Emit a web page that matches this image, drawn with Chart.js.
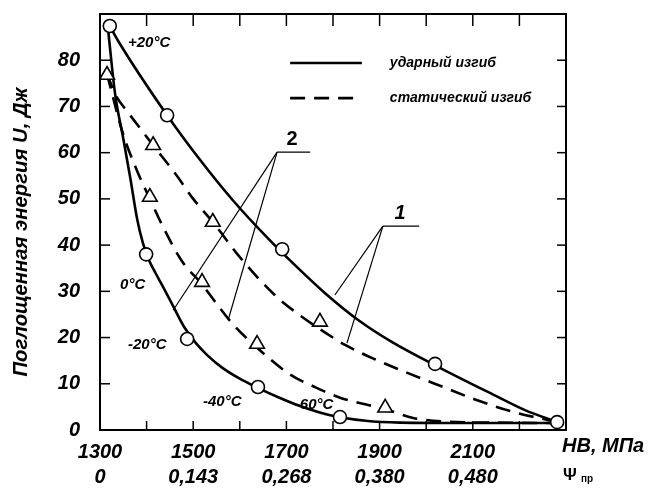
<!DOCTYPE html>
<html>
<head>
<meta charset="utf-8">
<script src="https://cdn.jsdelivr.net/npm/chart.js@4.4.1/dist/chart.umd.min.js"></script>
<style>
  html, body { margin: 0; padding: 0; background: #ffffff; }
  #wrap { width: 650px; height: 488px; }
</style>
</head>
<body>
<div id="wrap"><canvas id="c" width="650" height="488"></canvas></div>
<script>
// ---------- data ----------
// Curve 1, impact bending (solid)
const impact1HB = [1321, 1340, 1444, 1515, 1585, 1660, 1720, 1783, 1854, 1927, 2019, 2141, 2212, 2281];
const impact1U  = [87.4, 84.0, 68.1, 58.4, 49.7, 41.5, 35.5, 29.6, 23.8, 19.0, 14.0, 7.8, 4.3, 1.7];
// Curve 2, impact bending (solid)
const impact2HB = [1318, 1332, 1350, 1365, 1380, 1392, 1405, 1420, 1433, 1457, 1480, 1504, 1530, 1562, 1600, 1633, 1680, 1729, 1794, 1870, 1944, 2100, 2281];
const impact2U  = [86.0, 73.0, 63.0, 54.5, 45.5, 40.5, 36.8, 33.8, 31.4, 26.8, 22.4, 19.0, 16.2, 13.5, 11.1, 9.4, 7.2, 5.2, 3.2, 2.0, 1.6, 1.5, 1.5];
// Curve 1, static bending (dashed)
const static1HB = [1315, 1336, 1358, 1414, 1465, 1500, 1542, 1600, 1675, 1729, 1780, 1826, 1890, 1961, 2034, 2105, 2184, 2281];
const static1U  = [77.0, 72.0, 69.0, 61.6, 55.0, 50.0, 45.0, 37.4, 29.2, 24.8, 21.3, 18.4, 15.3, 12.3, 9.4, 6.6, 4.0, 1.7];
// Curve 2, static bending (dashed)
const static2HB = [1315, 1349, 1379, 1407, 1435, 1476, 1519, 1551, 1585, 1637, 1708, 1761, 1815, 1912, 1972, 2045, 2150, 2281];
const static2U  = [77.0, 64.2, 56.2, 50.0, 44.0, 36.5, 31.5, 27.2, 22.9, 17.8, 12.0, 9.3, 7.0, 4.5, 2.6, 1.8, 1.6, 1.5];
// Measured points
const circleHB = [1321, 1444, 1691, 2019, 2281, 1399, 1487, 1639, 1815];
const circleU  = [87.4, 68.1, 39.1, 14.3, 1.7, 38.0, 19.7, 9.3, 2.8];
const triHB    = [1315, 1414, 1542, 1772, 1407, 1519, 1637, 1912];
const triU     = [76.8, 61.6, 45.0, 23.4, 50.4, 32.0, 18.6, 4.8];
// Axis tick labels
const xLabelValues = [1300, 1500, 1700, 1900, 2100];
const psiLabels    = ['0', '0,143', '0,268', '0,380', '0,480'];
const yMin = 0, yMax = 90, yStep = 10;
const xMin = 1300, xMax = 2300, xStep = 100;
// Texts
const legendTexts = ['ударный изгиб', 'статический изгиб'];
const tempLabels  = ['+20°C', '0°C', '-20°C', '-40°C', '-60°C'];
const yTitle = 'Поглощенная энергия U, Дж';
const xTitle = 'НВ, МПа';

// ---------- annotation placement (data coordinates) ----------
const tempPos = [[1360, 83.7], [1343, 31.4], [1360, 18.4], [1521, 6.1], [1718, 5.4]];
const leader2 = { label: [1712, 62.9], bar: [[1680, 60.1], [1751, 60.1]], ends: [[1457, 25.9], [1575, 23.8]] };
const leader1 = { label: [1944, 46.9], bar: [[1907, 44.1], [1985, 44.1]], ends: [[1804, 29.2], [1830, 18.8]] };
const legendPos = { x0: 1708, x1: 1862, xt: 1922, y: [79.4, 71.8] };

const zip = (xs, ys) => xs.map((x, i) => ({ x: x, y: ys[i] }));
const FONT = '"Liberation Sans", Arial, sans-serif';
const DASH = [15, 9];

const lineDs = (label, xs, ys, dashed) => ({
  label: label, data: zip(xs, ys), showLine: true, borderColor: '#000', borderWidth: 2.6,
  borderDash: dashed ? DASH : [], pointRadius: 0, cubicInterpolationMode: 'monotone',
  fill: false, order: 2
});

const overlay = {
  id: 'overlay',
  afterDraw(chart) {
    const ctx = chart.ctx, a = chart.chartArea, xs = chart.scales.x, ys = chart.scales.y;
    const P = (p) => [xs.getPixelForValue(p[0]), ys.getPixelForValue(p[1])];
    ctx.save();
    // frame
    ctx.strokeStyle = '#000'; ctx.lineWidth = 2; ctx.setLineDash([]);
    ctx.strokeRect(a.left, a.top, a.right - a.left, a.bottom - a.top);
    // inward ticks
    ctx.lineWidth = 1.5;
    xs.ticks.forEach(t => {
      if (t.value <= xMin || t.value >= xMax) return;
      const px = xs.getPixelForValue(t.value);
      ctx.beginPath(); ctx.moveTo(px, a.bottom); ctx.lineTo(px, a.bottom - 9); ctx.stroke();
      ctx.beginPath(); ctx.moveTo(px, a.top); ctx.lineTo(px, a.top + 12); ctx.stroke();
    });
    ys.ticks.forEach(t => {
      if (t.value <= yMin || t.value >= yMax) return;
      const py = ys.getPixelForValue(t.value);
      ctx.beginPath(); ctx.moveTo(a.left, py); ctx.lineTo(a.left + 10, py); ctx.stroke();
      ctx.beginPath(); ctx.moveTo(a.right, py); ctx.lineTo(a.right - 9, py); ctx.stroke();
    });
    // legend
    ctx.lineWidth = 2.6;
    [false, true].forEach((dashed, i) => {
      const y = ys.getPixelForValue(legendPos.y[i]);
      ctx.setLineDash(dashed ? DASH : []);
      ctx.beginPath(); ctx.moveTo(xs.getPixelForValue(legendPos.x0), y);
      ctx.lineTo(xs.getPixelForValue(legendPos.x1), y); ctx.stroke();
      ctx.setLineDash([]);
      ctx.fillStyle = '#000'; ctx.font = 'italic bold 14px ' + FONT;
      ctx.textAlign = 'left'; ctx.textBaseline = 'middle';
      ctx.fillText(legendTexts[i], xs.getPixelForValue(legendPos.xt), y);
    });
    // leaders
    ctx.lineWidth = 1.2;
    [[leader1, '1'], [leader2, '2']].forEach(([L, txt]) => {
      const b0 = P(L.bar[0]), b1 = P(L.bar[1]);
      ctx.beginPath(); ctx.moveTo(b0[0], b0[1]); ctx.lineTo(b1[0], b1[1]); ctx.stroke();
      L.ends.forEach(e => {
        const pe = P(e);
        ctx.beginPath(); ctx.moveTo(b0[0], b0[1]); ctx.lineTo(pe[0], pe[1]); ctx.stroke();
      });
      const pl = P(L.label);
      ctx.font = (txt === '1' ? 'italic ' : '') + 'bold 20px ' + FONT;
      ctx.textAlign = 'center'; ctx.textBaseline = 'middle';
      ctx.fillText(txt, pl[0], pl[1]);
    });
    // temperature labels
    ctx.font = 'italic bold 15px ' + FONT; ctx.textAlign = 'left'; ctx.textBaseline = 'middle';
    tempLabels.forEach((t, i) => { const p = P(tempPos[i]); ctx.fillText(t, p[0], p[1]); });
    // y title
    ctx.save();
    let fs = 18; ctx.font = 'italic bold ' + fs + 'px ' + FONT;
    fs = fs * 290 / ctx.measureText(yTitle).width;
    ctx.font = 'italic bold ' + fs.toFixed(1) + 'px ' + FONT;
    ctx.translate(a.left - 79, (a.top + a.bottom) / 2 + 10);
    ctx.rotate(-Math.PI / 2);
    ctx.textAlign = 'center'; ctx.textBaseline = 'middle';
    ctx.fillText(yTitle, 0, 0);
    ctx.restore();
    // x titles
    ctx.font = 'italic bold 20px ' + FONT; ctx.textAlign = 'left'; ctx.textBaseline = 'middle';
    ctx.fillText(xTitle, a.right - 4, a.bottom + 16);
    ctx.font = 'bold 17px ' + FONT;
    ctx.fillText('Ψ', a.right - 3, a.bottom + 45);
    ctx.font = 'bold 10px ' + FONT;
    ctx.fillText('пр', a.right + 15, a.bottom + 49);
    ctx.restore();
  }
};

new Chart(document.getElementById('c'), {
  type: 'scatter',
  data: {
    datasets: [
      { label: 'circles', data: zip(circleHB, circleU), pointStyle: 'circle', pointRadius: 6.5,
        pointBackgroundColor: '#fff', pointBorderColor: '#000', pointBorderWidth: 1.6, showLine: false, order: 0 },
      { label: 'triangles', data: zip(triHB, triU), pointStyle: 'triangle', pointRadius: 8.5,
        pointBackgroundColor: '#fff', pointBorderColor: '#000', pointBorderWidth: 1.6, showLine: false, order: 0 },
      lineDs('impact 1', impact1HB, impact1U, false),
      lineDs('impact 2', impact2HB, impact2U, false),
      lineDs('static 1', static1HB, static1U, true),
      lineDs('static 2', static2HB, static2U, true)
    ]
  },
  options: {
    responsive: false, animation: false, devicePixelRatio: 1,
    layout: { padding: { top: 14, right: 84, left: 0, bottom: 0 } },
    plugins: { legend: { display: false }, tooltip: { enabled: false } },
    scales: {
      x: {
        type: 'linear', min: xMin, max: xMax,
        grid: { display: false, drawTicks: false }, border: { display: false },
        afterFit(s) { s.height = 58; s.paddingLeft = 0; s.paddingRight = 0; },
        ticks: {
          stepSize: xStep, autoSkip: false, maxRotation: 0, padding: 10, color: '#000',
          font: { family: FONT, size: 20, style: 'italic', weight: 'bold', lineHeight: 1.25 },
          callback(v) { const i = xLabelValues.indexOf(v); return i >= 0 ? [String(v), psiLabels[i]] : ''; }
        }
      },
      y: {
        type: 'linear', min: yMin, max: yMax,
        grid: { display: false, drawTicks: false }, border: { display: false },
        afterFit(s) { s.width = 100; s.paddingTop = 0; s.paddingBottom = 0; },
        ticks: {
          stepSize: yStep, padding: 20, color: '#000',
          font: { family: FONT, size: 20, style: 'italic', weight: 'bold' },
          callback(v) { return v >= yMax ? '' : String(v); }
        }
      }
    }
  },
  plugins: [overlay]
});
</script>
</body>
</html>
